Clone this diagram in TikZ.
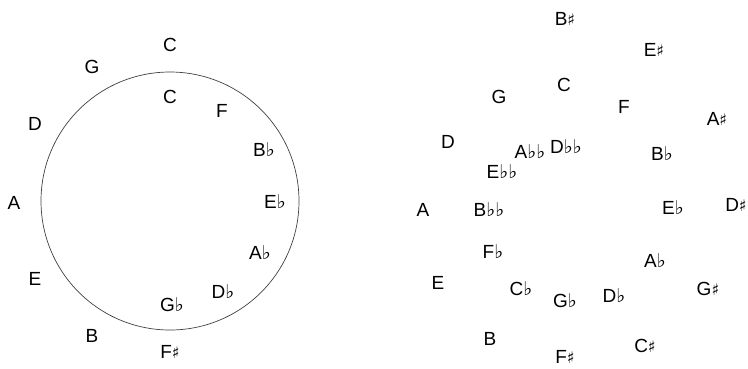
\documentclass[tikz,border=0pt]{standalone}
\usepackage{fontspec}
\setmainfont{Liberation Sans}
\newfontfamily\symfont{DejaVu Sans}
\newcommand{\fl}{{\symfont ♭}}
\newcommand{\shp}{{\symfont\fontsize{16}{18}\selectfont ♯}}
\begin{document}
\begin{tikzpicture}[x=1pt,y=-1pt,
  lab/.style={anchor=base,inner sep=0pt,yshift=-6.8pt,font=\fontsize{19}{22}\selectfont},
  ring/.style={draw=black!75,line width=0.7pt}]
\useasboundingbox (0,0) rectangle (748,368);
% left circle
\node[ring,circle,minimum size=258pt,inner sep=0pt] (circ) at (170,201) {};
\node[lab] (lC)  at (170,45)  {C};
\node[lab] (lG)  at (92,67)   {G};
\node[lab] (lD)  at (35,124)  {D};
\node[lab] (lA)  at (14,203)  {A};
\node[lab] (lE)  at (35,279)  {E};
\node[lab] (lB)  at (92,336)  {B};
\node[lab] (lFs) at (170,352) {F\shp};
\node[lab] (iC)  at (170,97)  {C};
\node[lab] (iF)  at (222,111) {F};
\node[lab] (iBb) at (264,150) {B\fl};
\node[lab] (iEb) at (275,202) {E\fl};
\node[lab] (iAb) at (260,253) {A\fl};
\node[lab] (iDb) at (223,292) {D\fl};
\node[lab] (iGb) at (172,305) {G\fl};
% right spiral
\node[lab] (rBs)  at (565,19)  {B\shp};
\node[lab] (rEs)  at (654,50)  {E\shp};
\node[lab] (rC)   at (564,85)  {C};
\node[lab] (rG)   at (499,97)  {G};
\node[lab] (rF)   at (624,107) {F};
\node[lab] (rAs)  at (717,119) {A\shp};
\node[lab] (rD)   at (448,142) {D};
\node[lab] (rAbb) at (530,152) {A\fl\fl};
\node[lab] (rDbb) at (566,147) {D\fl\fl};
\node[lab] (rBb)  at (662,154) {B\fl};
\node[lab] (rEbb) at (502,172) {E\fl\fl};
\node[lab] (rA)   at (423,210) {A};
\node[lab] (rBbb) at (489,210) {B\fl\fl};
\node[lab] (rEb)  at (673,208) {E\fl};
\node[lab] (rDs)  at (736,205) {D\shp};
\node[lab] (rFb)  at (493,252) {F\fl};
\node[lab] (rAb)  at (655,261) {A\fl};
\node[lab] (rE)   at (438,283) {E};
\node[lab] (rCb)  at (521,289) {C\fl};
\node[lab] (rGs)  at (708,289) {G\shp};
\node[lab] (rGb)  at (565,301) {G\fl};
\node[lab] (rDb)  at (614,296) {D\fl};
\node[lab] (rB)   at (490,339) {B};
\node[lab] (rCs)  at (645,346) {C\shp};
\node[lab] (rFs)  at (565,357) {F\shp};
\end{tikzpicture}
\end{document}
